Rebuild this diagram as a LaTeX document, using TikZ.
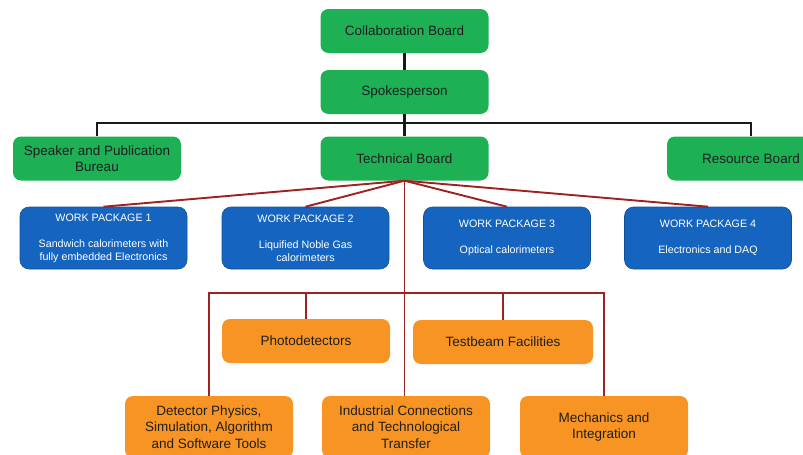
\documentclass[tikz,border=0pt]{standalone}
\usepackage{fontspec}
\setmainfont{Liberation Sans}
\definecolor{boardgreen}{RGB}{29,176,84}
\definecolor{wpblue}{RGB}{21,101,192}
\definecolor{taskorange}{RGB}{247,148,36}
\definecolor{linkred}{RGB}{158,34,34}

\begin{document}
\begin{tikzpicture}[
  x=1pt,y=-1pt,
  board/.style={rectangle,rounded corners=8pt,fill=boardgreen,minimum width=168pt,minimum height=44pt,inner sep=0pt,align=center,text=black!88,font=\fontsize{13.5}{16.5}\selectfont},
  wpbox/.style={rectangle,rounded corners=9pt,fill=wpblue,draw=wpblue!80!black,line width=0.6pt,minimum width=167pt,minimum height=62pt,inner sep=0pt,align=center,text=white,font=\fontsize{10.7}{13}\selectfont},
  task/.style={rectangle,rounded corners=8pt,fill=taskorange,minimum width=168pt,minimum height=44pt,inner sep=0pt,align=center,text=black!88,font=\fontsize{13.5}{16.5}\selectfont},
  org/.style={line width=2.2pt,black!90},
  tech/.style={line width=1.9pt,linkred},
]
\useasboundingbox (0,0) rectangle (803,455);
\clip (0,0) rectangle (803,455);
\node[board] (cb) at (404.5,31) {Collaboration Board};
\node[board] (sp) at (404.5,92) {Spokesperson};
\node[board] (spb) at (97,158.5) {Speaker and Publication\\Bureau};
\node[board] (tb) at (404.5,158.5) {Technical Board};
\node[board] (rb) at (751,158.5) {Resource Board};
\coordinate (obus) at (404.5,123);
\draw[org] (cb) -- (sp); \draw[org] (sp) -- (tb);
\draw[org] (spb.north) |- (rb.north |- obus) -- (rb.north);
\node[wpbox] (wp1) at (103.5,238) {WORK PACKAGE 1\\[13pt]Sandwich calorimeters with\\fully embedded Electronics};
\node[wpbox] (wp2) at (305.5,238) {WORK PACKAGE 2\\[13pt]Liquified Noble Gas\\calorimeters};
\node[wpbox] (wp3) at (507,238) {WORK PACKAGE 3\\[13pt]Optical calorimeters};
\node[wpbox] (wp4) at (708,238) {WORK PACKAGE 4\\[13pt]Electronics and DAQ};
\draw[tech] (tb.south) -- (wp1.north); \draw[tech] (tb.south) -- (wp2.north);
\draw[tech] (tb.south) -- (wp3.north); \draw[tech] (tb.south) -- (wp4.north);
\node[task] (pho) at (306,341) {Photodetectors};
\node[task,minimum width=180pt] (tbf) at (503,342) {Testbeam Facilities};
\node[task,minimum height=62pt] (dps) at (209,427) {Detector Physics,\\Simulation, Algorithm\\and Software Tools};
\node[task,minimum height=62pt] (ict) at (406,427) {Industrial Connections\\and Technological\\Transfer};
\node[task,minimum height=62pt] (mi) at (604,427) {Mechanics and\\Integration};
\coordinate (tbus) at (404.5,293);
\draw[tech] (tb.south) -- (tb.south |- ict.north);
\draw[tech] (dps.north) |- (mi.north |- tbus) -- (mi.north);
\draw[tech] (pho.north) -- (pho.north |- tbus);
\draw[tech] (tbf.north) -- (tbf.north |- tbus);
\end{tikzpicture}
\end{document}
